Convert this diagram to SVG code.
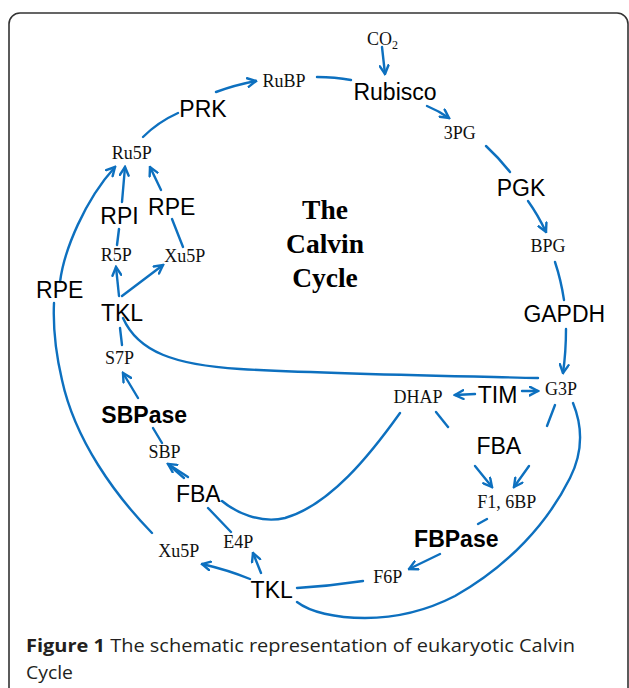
<svg xmlns="http://www.w3.org/2000/svg" width="629" height="688" viewBox="0 0 629 688">
<defs>
<style>
.c{fill:none;stroke:#0d70bf;stroke-width:2.4;stroke-linecap:round}
.a{marker-end:url(#ah)}
.s{font-family:"Liberation Serif","Times New Roman",serif;font-size:18px;fill:#111;text-anchor:middle}
.n{font-family:"Liberation Sans",Arial,sans-serif;font-size:23px;fill:#000;text-anchor:middle}
.b{font-weight:bold}
.t{font-family:"Liberation Serif","Times New Roman",serif;font-size:27.5px;font-weight:bold;fill:#000;text-anchor:middle}
.cap{font-family:"Open Sans","Liberation Sans",sans-serif;font-size:18.5px;fill:#231f20}
</style>
<marker id="ah" viewBox="0 0 10 10" refX="8.6" refY="5" markerWidth="11" markerHeight="11" markerUnits="userSpaceOnUse" orient="auto">
<path d="M1,1 L8.6,5 L1,9" fill="none" stroke="#0d70bf" stroke-width="2.2" stroke-linecap="round" stroke-linejoin="miter"/>
</marker>
</defs>
<rect x="9" y="13" width="619" height="700" rx="11" fill="#fff" stroke="#333" stroke-width="1.6"/>

<g id="connectors">
<path class="c a" d="M382,47 L385,74"/>
<path class="c a" d="M216,92 Q235,85 256,81"/>
<path class="c" d="M143,137 Q158,122 178,113"/>
<path class="c" d="M317,77 Q335,77 351,80"/>
<path class="c a" d="M427,106 Q439,111 449,118"/>
<path class="c" d="M486,146 Q499,158 510,172"/>
<path class="c a" d="M528,201 Q538,215 546,232"/>
<path class="c" d="M555,262 Q561,280 564,300"/>
<path class="c a" d="M566,329 Q566,352 563,373"/>
<path class="c a" d="M522,391 L538,391"/>
<path class="c a" d="M475,394 L455,395"/>
<path class="c" d="M436,412 L448,427"/>
<path class="c" d="M555,405 L547,426"/>
<path class="c a" d="M475,466 L492,487"/>
<path class="c a" d="M529,466 L514,487"/>
<path class="c" d="M487,519 L478,524"/>
<path class="c a" d="M440,554 L409,569"/>
<path class="c" d="M297,588 Q330,586 363,581"/>
<path class="c" d="M573,403 C582,425 584,450 570,478 C548,522 510,565 455,596 C420,614 390,618 365,618 C335,618 310,612 297,602"/>
<path class="c" d="M123,318 C138,352 175,365 240,369 C330,374 450,376 538,378"/>
<path class="c a" d="M119,296 L116,267"/>
<path class="c a" d="M122,296 L163,265"/>
<path class="c" d="M172,219 L183,247"/>
<path class="c a" d="M161,190 L150,167"/>
<path class="c" d="M119,229 L117,245"/>
<path class="c a" d="M122,202 L125,167"/>
<path class="c" d="M120,328 L122,345"/>
<path class="c a" d="M138,398 L123,373"/>
<path class="c" d="M162,443 L153,428"/>
<path class="c a" d="M188,477 L168,464"/>
<path class="c" d="M184,478 L169,465"/>
<path class="c" d="M400,413 C370,455 330,505 285,518 C260,524 235,512 222,501"/>
<path class="c" d="M208,508 L231,532"/>
<path class="c a" d="M261,573 L253,553"/>
<path class="c a" d="M250,579 Q228,570 202,564"/>
<path class="c" d="M152,533 C115,495 75,440 62,380 C55,350 53,325 54,303"/>
<path class="c a" d="M60,282 C64,250 85,200 115,167"/>
</g>

<g id="CO2"><text class="s" x="367" y="45" style="text-anchor:start">CO<tspan font-size="12" dy="4">2</tspan></text></g>
<g id="RuBP"><text class="s" x="284" y="86.5">RuBP</text></g>
<g id="Rubisco"><text class="n" x="395" y="100">Rubisco</text></g>
<g id="PG3"><text class="s" x="459.7" y="139.3">3PG</text></g>
<g id="PGK"><text class="n" x="521" y="196">PGK</text></g>
<g id="BPG"><text class="s" x="548" y="251.7">BPG</text></g>
<g id="GAPDH"><text class="n" x="564.3" y="322.3">GAPDH</text></g>
<g id="G3P"><text class="s" x="561" y="395">G3P</text></g>
<g id="TIM"><text class="n" x="497.5" y="403.3">TIM</text></g>
<g id="DHAP"><text class="s" x="418" y="402.7">DHAP</text></g>
<g id="FBA-right"><text class="n" x="498.8" y="454.3">FBA</text></g>
<g id="F16BP"><text class="s" x="506.7" y="508.3">F1, 6BP</text></g>
<g id="FBPase"><text class="n b" x="456.3" y="547.3">FBPase</text></g>
<g id="F6P"><text class="s" x="387.7" y="582.7">F6P</text></g>
<g id="TKL-bottom"><text class="n" x="271.7" y="598.3">TKL</text></g>
<g id="E4P"><text class="s" x="238.3" y="548.3">E4P</text></g>
<g id="Xu5P-bottom"><text class="s" x="178.7" y="557.3">Xu5P</text></g>
<g id="FBA-left"><text class="n" x="198.3" y="501.7">FBA</text></g>
<g id="SBP"><text class="s" x="164.5" y="458">SBP</text></g>
<g id="SBPase"><text class="n b" x="144.2" y="422.7">SBPase</text></g>
<g id="S7P"><text class="s" x="119.5" y="364.3">S7P</text></g>
<g id="TKL-top"><text class="n" x="122" y="320.7">TKL</text></g>
<g id="R5P"><text class="s" x="116.3" y="261">R5P</text></g>
<g id="Xu5P-top"><text class="s" x="184.7" y="261.7">Xu5P</text></g>
<g id="RPI"><text class="n" x="119.5" y="223.5">RPI</text></g>
<g id="RPE-inner"><text class="n" x="171.7" y="215">RPE</text></g>
<g id="Ru5P"><text class="s" x="131.7" y="159.3">Ru5P</text></g>
<g id="PRK"><text class="n" x="203" y="116.7">PRK</text></g>
<g id="RPE-left"><text class="n" x="59.7" y="297.7">RPE</text></g>
<g id="title"><text class="t" x="325" y="219">The</text><text class="t" x="325" y="253">Calvin</text><text class="t" x="325" y="287">Cycle</text></g>
<g id="caption"><text class="cap" x="26" y="652" textLength="549" lengthAdjust="spacingAndGlyphs"><tspan font-weight="bold">Figure 1</tspan> The schematic representation of eukaryotic Calvin</text><text class="cap" x="26" y="679" textLength="47" lengthAdjust="spacingAndGlyphs">Cycle</text></g>
</svg>
